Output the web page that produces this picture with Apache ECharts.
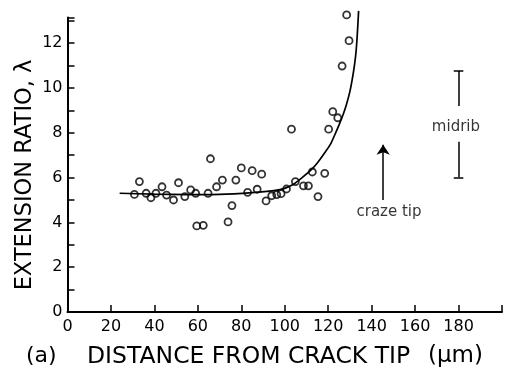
<!DOCTYPE html>
<html><head><meta charset="utf-8">
<script src="https://cdn.jsdelivr.net/npm/echarts@6/dist/echarts.min.js"></script>
<style>html,body{margin:0;padding:0;background:#fff}#c{width:505px;height:376px}</style>
</head><body><div id="c"></div>
<script>
// Measured data points (distance um, extension ratio)
var points = [
  [30.8,5.25],[33.1,5.82],[36.2,5.30],[38.4,5.10],[40.7,5.30],[43.5,5.59],[45.6,5.22],
  [48.8,5.00],[51.1,5.77],[54.0,5.15],[56.7,5.45],[59.0,5.30],[59.5,3.84],[62.5,3.87],
  [64.7,5.30],[65.8,6.84],[68.6,5.59],[71.3,5.89],[73.9,4.02],[75.7,4.75],[77.5,5.89],
  [80.0,6.43],[82.9,5.34],[85.0,6.31],[87.3,5.48],[89.4,6.15],[91.4,4.96],[94.0,5.19],
  [96.3,5.24],[98.3,5.28],[100.8,5.49],[103.1,8.16],[104.9,5.82],[108.6,5.63],[110.9,5.63],
  [112.7,6.25],[115.3,5.15],[118.4,6.19],[120.2,8.16],[122.1,8.94],[124.4,8.67],
  [126.4,10.98],[129.6,12.11],[128.5,13.26]
];
// Fitted curve
var curve = [
  [24,5.30],[40,5.26],[55,5.24],[70,5.25],[85,5.33],[95,5.42],[100,5.52],[104,5.70],
  [108,6.00],[112,6.33],[115,6.65],[118,7.05],[121,7.48],[123,7.90],[125,8.35],
  [127,8.85],[128.5,9.30],[130,9.85],[131,10.35],[132,10.95],[132.8,11.60],
  [133.4,12.40],[134,13.44]
];
var midribX = 180;
var midribTop = 10.76, midribBottom = 6.01, midribGapTop = 9.2, midribGapBottom = 7.6;
var midribLabel = [178.8, 8.26];
var arrowX = 145.3, arrowFrom = 5.0, arrowTo = 7.46;
var crazeLabel = [148.0, 4.46];
var xTicks = [0,20,40,60,80,100,120,140,160,180];
var yTickLabels = [0,2,4,6,8,10,12];

var chart = echarts.init(document.getElementById('c'));
var font = 'DejaVu Sans';
var capW = 2.2;
chart.setOption({
  animation: false,
  grid: {left: 67.5, right: 0, top: 17.4, bottom: 64, containLabel: false},
  xAxis: {
    type: 'value', min: 0, max: 200, interval: 20,
    axisLine: {lineStyle: {color: '#000', width: 2}},
    axisTick: {inside: true, length: 7, lineStyle: {color: '#000', width: 1.5}},
    axisLabel: {color: '#000', fontFamily: font, fontSize: 16, margin: 7,
      formatter: function (v) { return xTicks.indexOf(v) >= 0 ? String(v) : ''; }},
    splitLine: {show: false}
  },
  yAxis: {
    type: 'value', min: 0, max: 13.15, interval: 1,
    axisLine: {show: true, lineStyle: {color: '#000', width: 2}},
    axisTick: {show: true, inside: true, length: 7, lineStyle: {color: '#000', width: 1.5}},
    axisLabel: {color: '#000', fontFamily: font, fontSize: 16, margin: 5,
      formatter: function (v) { return yTickLabels.indexOf(v) >= 0 ? String(v) : ''; }},
    splitLine: {show: false}
  },
  graphic: [
    {type: 'text', left: 26, top: 345, style: {text: '(a)', font: '22px "DejaVu Sans"', fill: '#000'}},
    {type: 'text', left: 87, top: 345, style: {text: 'DISTANCE FROM CRACK TIP', font: '23.5px "DejaVu Sans"', fill: '#000'}},
    {type: 'text', left: 428, top: 345, style: {text: '(μm)', font: '23px "DejaVu Sans"', fill: '#000'}},
    {type: 'text', x: 25, y: 175, rotation: Math.PI / 2,
      style: {text: 'EXTENSION RATIO, λ', font: '22.5px "DejaVu Sans"', fill: '#000', align: 'center', verticalAlign: 'middle'}}
  ],
  series: [
    {type: 'line', data: curve, smooth: 0.2, showSymbol: false, clip: false,
      lineStyle: {color: '#000', width: 1.7}},
    {type: 'scatter', data: points, symbol: 'circle', symbolSize: 7, clip: false,
      itemStyle: {color: 'rgba(255,255,255,0)', borderColor: '#000', borderWidth: 1.8}},
    {type: 'lines', coordinateSystem: 'cartesian2d', polyline: false,
      lineStyle: {color: '#000', width: 1.5, opacity: 1},
      symbol: ['none', 'none'],
      data: [
        {coords: [[midribX, midribTop], [midribX, midribGapTop]]},
        {coords: [[midribX, midribGapBottom], [midribX, midribBottom]]},
        {coords: [[midribX - capW, midribTop], [midribX + capW, midribTop]]},
        {coords: [[midribX - capW, midribBottom], [midribX + capW, midribBottom]]}
      ]},
    {type: 'lines', coordinateSystem: 'cartesian2d',
      lineStyle: {color: '#000', width: 1.5, opacity: 1},
      symbol: ['none', 'arrow'], symbolSize: [6, 10],
      data: [{coords: [[arrowX, arrowFrom], [arrowX, arrowTo]]}]},
    {type: 'scatter', symbolSize: 0, data: [crazeLabel],
      label: {show: true, position: 'inside', formatter: 'craze tip', color: '#000', fontFamily: font, fontSize: 15}},
    {type: 'scatter', symbolSize: 0, data: [midribLabel],
      label: {show: true, position: 'inside', formatter: 'midrib', color: '#000', fontFamily: font, fontSize: 15}}
  ]
});
</script></body></html>
